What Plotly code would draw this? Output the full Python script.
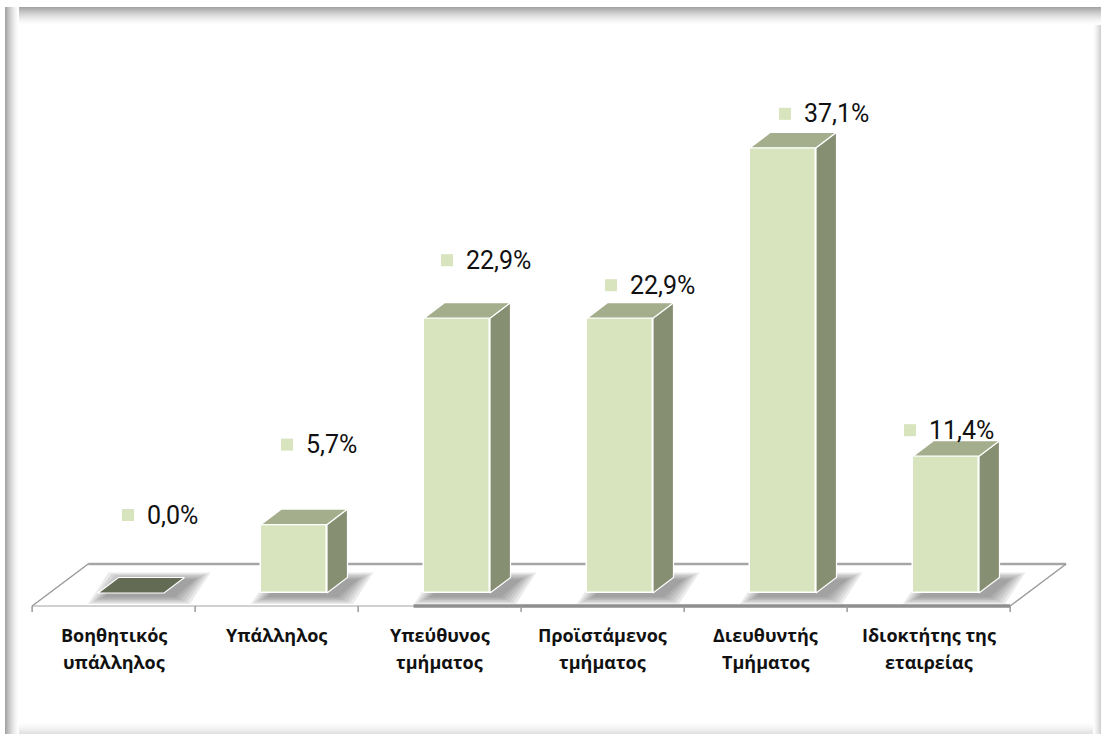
import plotly.graph_objects as go

# ---- data -------------------------------------------------------------
categories = [
    "Βοηθητικός\nυπάλληλος",
    "Υπάλληλος",
    "Υπεύθυνος\nτμήματος",
    "Προϊστάμενος\nτμήματος",
    "Διευθυντής\nΤμήματος",
    "Ιδιοκτήτης της\nεταιρείας",
]
values = [0.0, 5.7, 22.9, 22.9, 37.1, 11.4]

# ---- page / scale setup ---------------------------------------------------
W, H = 1107, 738
ORIGIN_PX = (131, 593)          # pixel of (category 0, value 0)
PX_PER_CAT = 163.0
PX_PER_PCT = 12.0

x_range = [-ORIGIN_PX[0] / PX_PER_CAT, (W - ORIGIN_PX[0]) / PX_PER_CAT]
y_range = [(ORIGIN_PX[1] - H) / PX_PER_PCT, ORIGIN_PX[1] / PX_PER_PCT]

# 3-D look: floor depth, bar depth, where the bars stand on the floor
FLOOR_D = (56 / PX_PER_CAT, 42 / PX_PER_PCT)
BAR_D = (20.5 / PX_PER_CAT, 15.5 / PX_PER_PCT)
T0 = 0.31
BAR_W = 66 / PX_PER_CAT

FRONT_COLOR = "#d7e4bd"
TOP_COLOR = "#a4ad8c"
SIDE_COLOR = "#878f72"
EMPTY_COLOR = "#636b55"

# value-label placement (pixel offsets from each bar's front-top centre)
label_dx_px = [-3, -7, -10, -9, 2, -36]
label_dy_px = [-78, -80, -58, -33, -34, -26]

n = len(categories)
fig = go.Figure()
shapes = []


def path(points):
    return "M " + " L ".join(f"{x:.5f},{y:.5f}" for x, y in points) + " Z"


# ---- floor ------------------------------------------------------------------
fx0 = -0.5 - T0 * FLOOR_D[0]
fy0 = -T0 * FLOOR_D[1]
fx1 = fx0 + n
bx0, bx1 = fx0 + FLOOR_D[0], fx1 + FLOOR_D[0]
by = fy0 + FLOOR_D[1]

floor_lines = [
    ((bx0, by), (bx1, by), "#a6a6a6", 2.5),
    ((fx0, fy0), (bx0, by), "#9a9a9a", 1.5),
    ((fx1, fy0), (bx1, by), "#9a9a9a", 1.5),
    ((fx0, fy0), (fx1, fy0), "#a3a3a3", 1.2),
    ((fx0 + 0.39 * n, fy0), (fx1, fy0), "#8e8e8e", 3.5),
]
for (xa, ya), (xb, yb), col, lw in floor_lines:
    shapes.append(dict(type="line", xref="x", yref="y", x0=xa, y0=ya, x1=xb, y1=yb,
                       line=dict(color=col, width=lw), layer="below"))

tick_len = 6 / PX_PER_PCT
for k in range(n + 1):
    shapes.append(dict(type="line", xref="x", yref="y", x0=fx0 + k, x1=fx0 + k,
                       y0=fy0, y1=fy0 - tick_len,
                       line=dict(color="#9a9a9a", width=1.5), layer="below"))

# ---- soft shadows behind the bars --------------------------------------------
sx, sy = 8 / PX_PER_CAT, -3 / PX_PER_PCT
for i, v in enumerate(values):
    xl = i - BAR_W / 2
    xr = i + BAR_W / 2
    for e in range(18, 0, -3):
        ex, ey = e / PX_PER_CAT, 0.45 * e / PX_PER_PCT
        pts = [
            (xl - ex + sx, -ey + sy),
            (xr + ex + sx, -ey + sy),
            (xr + BAR_D[0] + ex + sx, BAR_D[1] + ey + sy),
            (xl + BAR_D[0] - ex + sx, BAR_D[1] + ey + sy),
        ]
        shapes.append(dict(type="path", xref="x", yref="y", path=path(pts),
                           fillcolor="rgba(70,70,70,0.11)", line=dict(width=0),
                           layer="below"))

# ---- bar front faces ----------------------------------------------------------
fig.add_trace(go.Bar(
    x=list(range(n)), y=values, width=BAR_W,
    marker=dict(color=FRONT_COLOR, line=dict(color="white", width=1.5)),
    hoverinfo="skip", showlegend=False,
))

# ---- bar side and top faces ---------------------------------------------------
for i, v in enumerate(values):
    xl = i - BAR_W / 2
    xr = i + BAR_W / 2
    if v > 0:
        side = [(xr, 0), (xr + BAR_D[0], BAR_D[1]), (xr + BAR_D[0], v + BAR_D[1]), (xr, v), (xr, 0)]
        fig.add_trace(go.Scatter(
            x=[p[0] for p in side], y=[p[1] for p in side], mode="lines",
            fill="toself", fillcolor=SIDE_COLOR, line=dict(color="white", width=1.2),
            hoverinfo="skip", showlegend=False,
        ))
    top = [(xl, v), (xr, v), (xr + BAR_D[0], v + BAR_D[1]), (xl + BAR_D[0], v + BAR_D[1]), (xl, v)]
    fig.add_trace(go.Scatter(
        x=[p[0] for p in top], y=[p[1] for p in top], mode="lines",
        fill="toself", fillcolor=TOP_COLOR if v > 0 else EMPTY_COLOR,
        line=dict(color="white", width=1.2),
        hoverinfo="skip", showlegend=False,
    ))

# ---- value labels ---------------------------------------------------------------
lab_x = [i + dx / PX_PER_CAT for i, dx in enumerate(label_dx_px)]
lab_y = [v - dy / PX_PER_PCT for v, dy in zip(values, label_dy_px)]
fig.add_trace(go.Scatter(
    x=lab_x, y=lab_y, mode="markers",
    marker=dict(symbol="square", size=12, color=FRONT_COLOR, line=dict(width=0)),
    hoverinfo="skip", showlegend=False,
))
annotations = []
for x, y, v in zip(lab_x, lab_y, values):
    annotations.append(dict(
        x=x, y=y, xref="x", yref="y", xanchor="left", yanchor="middle", xshift=17,
        text=f"{v:.1f}".replace(".", ",") + "%", showarrow=False,
        font=dict(family="Roboto", size=25, color="#111111"),
    ))

# ---- category labels ------------------------------------------------------------
line_y_px = [42, 69]
for i, cat in enumerate(categories):
    cx = i - T0 * FLOOR_D[0]
    for j, part in enumerate(cat.split("\n")):
        annotations.append(dict(
            x=cx, y=-line_y_px[j] / PX_PER_PCT, xref="x", yref="y",
            xanchor="center", yanchor="middle", showarrow=False,
            text=f"<b>{part}</b>",
            font=dict(family="Open Sans", size=18, color="#111111"),
        ))

# ---- chart-area frame with soft inner edge ------------------------------------------
def px_rect(x0, y0, x1, y1, color):
    return dict(type="rect", xref="paper", yref="paper",
                x0=x0 / W, x1=x1 / W, y0=1 - y1 / H, y1=1 - y0 / H,
                fillcolor=color, line=dict(width=0), layer="above")

L, T, R, B = 5, 7, 1101, 734
for k in range(14):
    a = 0.55 * (1 - k / 14) ** 1.6
    shapes.append(px_rect(L + k, T, L + k + 1, B, f"rgba(90,90,90,{a:.3f})"))
for k in range(18):
    a = 0.55 * (1 - k / 18) ** 1.6
    shapes.append(px_rect(L + 14, T + k, R, T + k + 1, f"rgba(90,90,90,{a:.3f})"))
for k in range(8):
    a = 0.28 * (1 - k / 8) ** 1.5
    shapes.append(px_rect(R - k - 1, T + 18, R - k, B, f"rgba(90,90,90,{a:.3f})"))
for k in range(12):
    a = 0.18 * (1 - k / 12) ** 1.5
    shapes.append(px_rect(L + 14, B - k - 1, R - 8, B - k, f"rgba(90,90,90,{a:.3f})"))

fig.update_layout(
    width=W, height=H, autosize=False,
    margin=dict(l=0, r=0, t=0, b=0, pad=0),
    paper_bgcolor="white", plot_bgcolor="white",
    xaxis=dict(range=x_range, visible=False, fixedrange=True),
    yaxis=dict(range=y_range, visible=False, fixedrange=True),
    shapes=shapes, annotations=annotations,
    bargap=0, showlegend=False,
)

fig.write_html("out.html")
